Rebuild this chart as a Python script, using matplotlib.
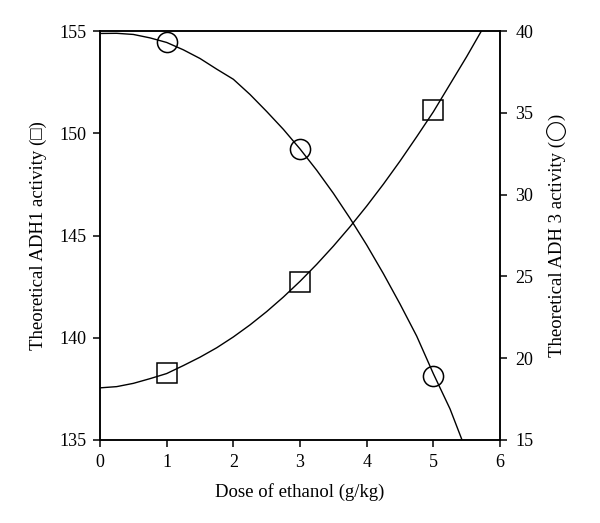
import matplotlib
matplotlib.use('Agg')
import matplotlib.pyplot as plt

plt.rcParams['font.family'] = ['Liberation Serif', 'DejaVu Sans']

# measured points
dose = [1, 3, 5]
adh1 = [138.3, 142.75, 151.12]   # squares, left axis
adh3 = [39.3, 32.8, 18.92]       # circles, right axis

# fitted curves
fit_x1 = [0, 0.25, 0.5, 0.75, 1, 1.25, 1.5, 1.75, 2, 2.25, 2.5, 2.75, 3,
          3.25, 3.5, 3.75, 4, 4.25, 4.5, 4.75, 5, 5.25, 5.5, 5.72]
fit_adh1 = [137.55, 137.61, 137.77, 138.0, 138.25, 138.64, 139.05, 139.51,
            140.04, 140.63, 141.28, 141.99, 142.76, 143.59, 144.48, 145.43,
            146.44, 147.51, 148.64, 149.83, 151.05, 152.4, 153.75, 155.0]
fit_x3 = [0, 0.25, 0.5, 0.75, 1, 1.25, 1.5, 1.75, 2, 2.25, 2.5, 2.75, 3,
          3.25, 3.5, 3.75, 4, 4.25, 4.5, 4.75, 5, 5.25, 5.43]
fit_adh3 = [39.85, 39.86, 39.79, 39.58, 39.3, 38.85, 38.32, 37.67, 37.05,
            36.12, 35.08, 33.99, 32.79, 31.49, 30.08, 28.55, 26.92, 25.17,
            23.31, 21.35, 19.05, 16.9, 15.0]

fig = plt.figure(figsize=(6, 5.23), dpi=100)
ax = fig.add_axes([0.1667, 0.1587, 0.6667, 0.782])
ax2 = ax.twinx()

ax.plot(fit_x1, fit_adh1, color='black', lw=1.0)
ax.plot(dose, adh1, 's', ms=14.5, mfc='none', mec='black', mew=1.1)
ax2.plot(fit_x3, fit_adh3, color='black', lw=1.0)
ax2.plot(dose, adh3, 'o', ms=14.5, mfc='none', mec='black', mew=1.1)

ax.set_xlim(0, 6)
ax.set_ylim(135, 155)
ax2.set_ylim(15, 40)
ax.set_xticks(range(0, 7))
ax.set_yticks([135, 140, 145, 150, 155])
ax2.set_yticks([15, 20, 25, 30, 35, 40])

for a in (ax, ax2):
    for s in a.spines.values():
        s.set_linewidth(1.1)
    a.tick_params(direction='out', length=5, width=1.1, labelsize=13)
ax.tick_params(axis='y', pad=5)
ax.tick_params(axis='x', pad=5)
ax2.tick_params(axis='y', pad=6)

ax.set_xlabel('Dose of ethanol (g/kg)', fontsize=13.5, labelpad=9)
ax.set_ylabel('Theoretical ADH1 activity (□)', fontsize=13.5, labelpad=9)
ax2.set_ylabel('Theoretical ADH 3 activity (◯)', fontsize=13.5, labelpad=10)

plt.savefig('out.png', dpi=100)
